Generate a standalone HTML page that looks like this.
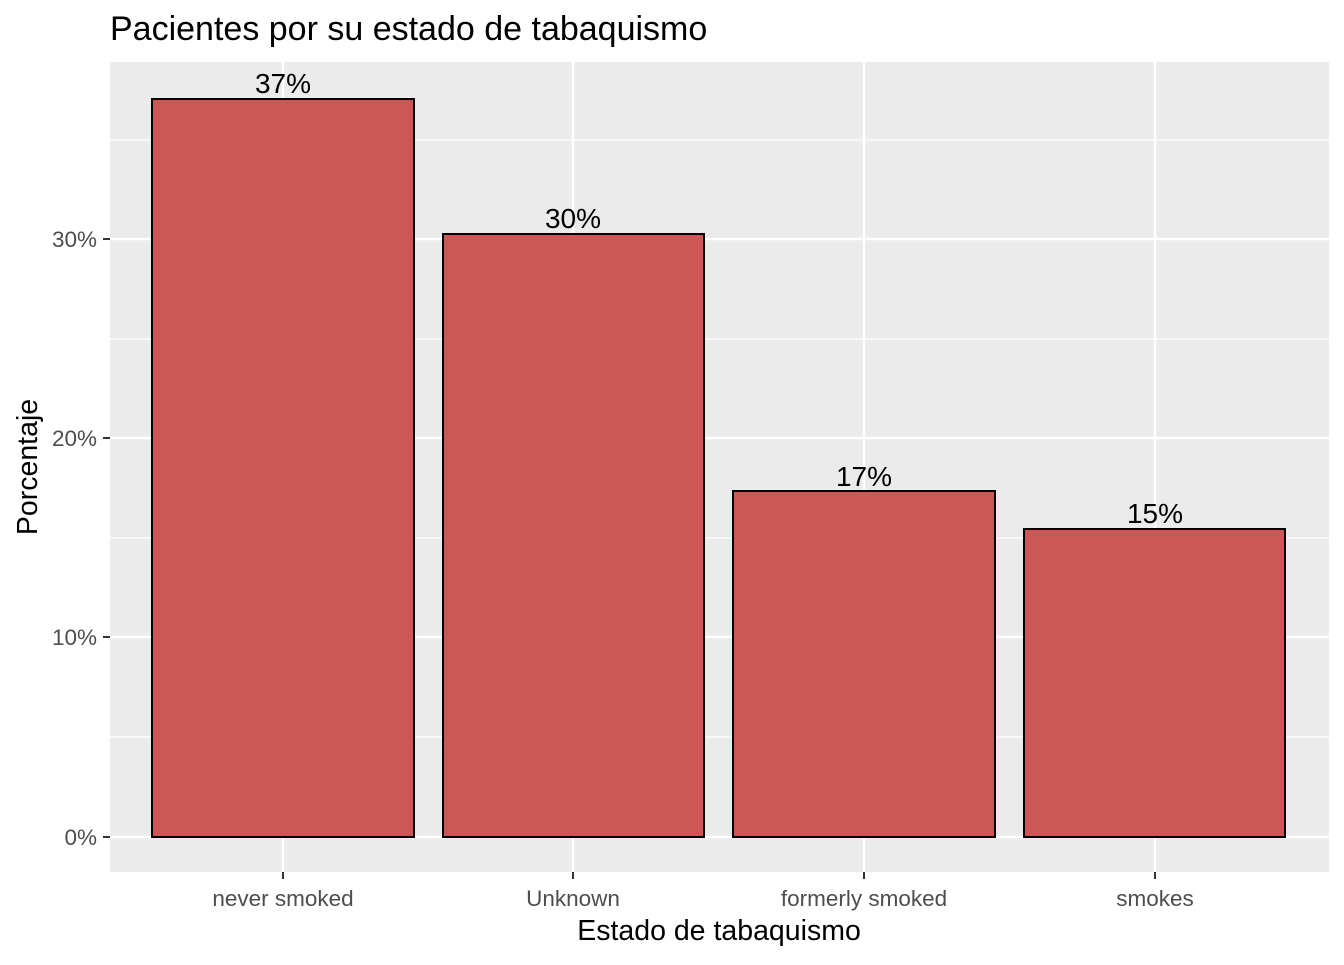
<!DOCTYPE html>
<html><head><meta charset="utf-8"><style>body{margin:0;background:#fff}</style></head><body>
<svg width="1344" height="960" xmlns="http://www.w3.org/2000/svg" font-family="Liberation Sans, sans-serif">
<rect width="1344" height="960" fill="#fff"/>
<rect x="110" y="62" width="1219" height="810" fill="#EBEBEB"/>
<g stroke="#fff" stroke-width="1.2">
<line x1="110" x2="1329" y1="737" y2="737"/><line x1="110" x2="1329" y1="538" y2="538"/><line x1="110" x2="1329" y1="339" y2="339"/><line x1="110" x2="1329" y1="140" y2="140"/>
</g>
<g stroke="#fff" stroke-width="2.4">
<line x1="110" x2="1329" y1="837" y2="837"/><line x1="110" x2="1329" y1="637" y2="637"/><line x1="110" x2="1329" y1="438" y2="438"/><line x1="110" x2="1329" y1="239" y2="239"/>
<line x1="283" x2="283" y1="62" y2="872"/><line x1="573" x2="573" y1="62" y2="872"/><line x1="864" x2="864" y1="62" y2="872"/><line x1="1155" x2="1155" y1="62" y2="872"/>
</g>
<g fill="#CD5757" stroke="#000" stroke-width="2">
<rect x="152" y="99" width="262" height="738"/>
<rect x="443" y="234" width="261" height="603"/>
<rect x="733" y="491" width="262" height="346"/>
<rect x="1024" y="529" width="261" height="308"/>
</g>
<g font-size="28" text-anchor="middle" fill="#000">
<text x="283" y="93">37%</text><text x="573" y="228">30%</text><text x="864" y="486">17%</text><text x="1155" y="523">15%</text>
</g>
<g stroke="#333" stroke-width="2">
<line x1="103" x2="110" y1="837" y2="837"/><line x1="103" x2="110" y1="637" y2="637"/><line x1="103" x2="110" y1="438" y2="438"/><line x1="103" x2="110" y1="239" y2="239"/>
<line x1="283" x2="283" y1="872" y2="879"/><line x1="573" x2="573" y1="872" y2="879"/><line x1="864" x2="864" y1="872" y2="879"/><line x1="1155" x2="1155" y1="872" y2="879"/>
</g>
<g font-size="22.5" fill="#4D4D4D" text-anchor="end">
<text x="97" y="845">0%</text><text x="97" y="645">10%</text><text x="97" y="446">20%</text><text x="97" y="247">30%</text>
</g>
<g font-size="22.5" fill="#4D4D4D" text-anchor="middle">
<text x="283" y="906">never smoked</text><text x="573" y="906">Unknown</text><text x="864" y="906">formerly smoked</text><text x="1155" y="906">smokes</text>
</g>
<text x="719" y="940" font-size="28.5" text-anchor="middle">Estado de tabaquismo</text>
<text transform="translate(37,467) rotate(-90)" font-size="28.5" text-anchor="middle">Porcentaje</text>
<text x="110" y="40" font-size="34">Pacientes por su estado de tabaquismo</text>
</svg>
</body></html>
